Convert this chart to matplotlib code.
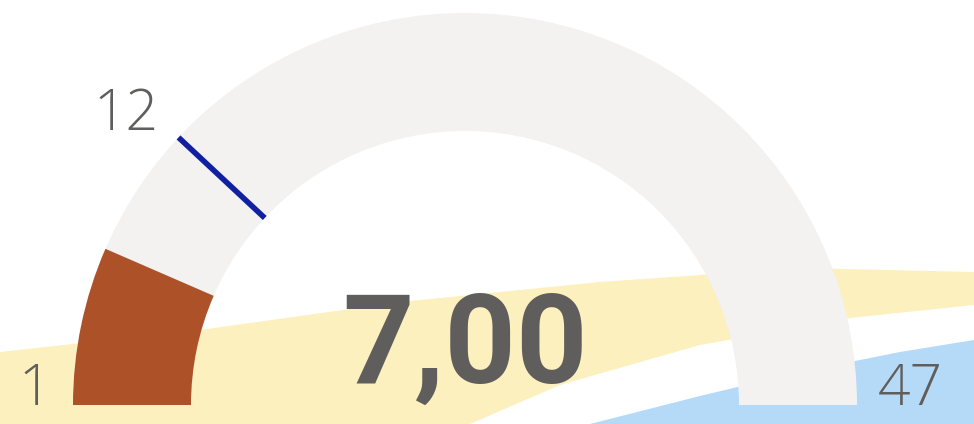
import matplotlib.pyplot as plt
from matplotlib.patches import Wedge, Polygon
import numpy as np

# gauge data
gauge_min = 1
gauge_max = 47
gauge_value = 7.00
gauge_target = 12
value_label = "7,00"

track_color = "#F3F2F1"
fill_color = "#AD5128"
target_color = "#1020A0"
text_color = "#605E5C"

# background decoration (soft bands behind the visual)
yellow_band = [(0, 352), (200, 330), (400, 302), (600, 282), (800, 268), (974, 272),
               (974, 305), (850, 318), (700, 345), (560, 385), (470, 424), (0, 424)]
blue_band = [(590, 424), (700, 396), (800, 372), (900, 352), (974, 340), (974, 424)]

W, H = 974, 424
fig = plt.figure(figsize=(W / 100, H / 100), dpi=100)
ax = fig.add_axes([0, 0, 1, 1])
ax.set_xlim(0, W)
ax.set_ylim(0, H)
ax.axis("off")

# y flipped so that picture rows read top-down
def flip(pts):
    return [(x, H - y) for x, y in pts]

ax.add_patch(Polygon(flip(yellow_band), closed=True, color="#FCF0BE", lw=0, zorder=0))
ax.add_patch(Polygon(flip(blue_band), closed=True, color="#B4DAF8", lw=0, zorder=0))

cx, cy = 465, H - 405
r_out, r_in = 392, 274

def to_angle(v):
    return 180 - 180 * (v - gauge_min) / (gauge_max - gauge_min)

ax.add_patch(Wedge((cx, cy), r_out, 0, 180, width=r_out - r_in, color=track_color, lw=0, zorder=1))
ax.add_patch(Wedge((cx, cy), r_out, to_angle(gauge_value), 180, width=r_out - r_in,
                   color=fill_color, lw=0, zorder=2))

a = np.radians(to_angle(gauge_target))
ax.plot([cx + r_in * np.cos(a), cx + r_out * np.cos(a)],
        [cy + r_in * np.sin(a), cy + r_out * np.sin(a)],
        color=target_color, lw=4, solid_capstyle="butt", zorder=3)

small = dict(color=text_color, fontsize=41, family="Open Sans", fontweight="light",
             ha="center", va="baseline")
ax.text(35, H - 405, str(gauge_min), **small)
ax.text(910, H - 405, str(gauge_max), **small)
ax.text(126, H - 130, str(gauge_target), **small)

ax.text(465, H - 383, value_label, color=text_color, fontsize=90, fontweight="bold",
        family="Roboto", ha="center", va="baseline")

fig.savefig("out.png", dpi=100)
